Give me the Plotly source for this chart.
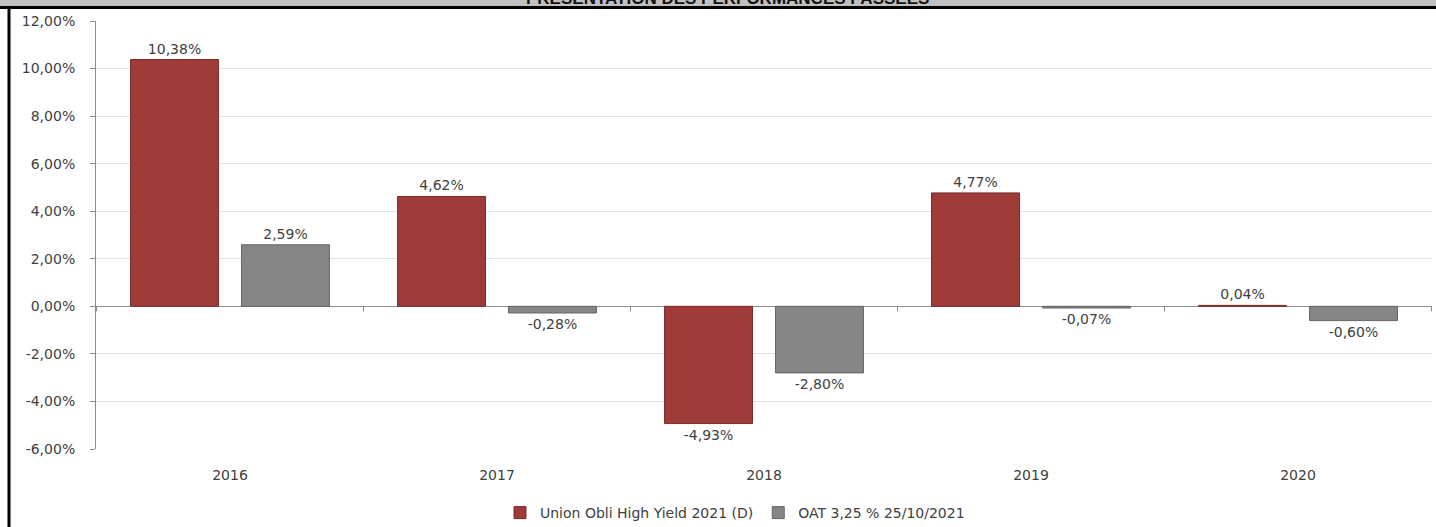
import plotly.graph_objects as go

years = ["2016", "2017", "2018", "2019", "2020"]
fund_name = "Union Obli High Yield 2021 (D)"
fund_perf = [10.38, 4.62, -4.93, 4.77, 0.04]
bench_name = "OAT 3,25 % 25/10/2021"
bench_perf = [2.59, -0.28, -2.80, -0.07, -0.60]
y_ticks = [-6, -4, -2, 0, 2, 4, 6, 8, 10, 12]
title_text = "PRESENTATION DES PERFORMANCES PASSEES"

W, H = 1436, 527
ML, MR, MT, MB = 96, 4, 21, 78
PW, PH = W - ML - MR, H - MT - MB

def px_x(p):
    return (p - ML) / PW

def px_y(p):
    return (H - MB - p) / PH

def pct(v):
    return ("%.2f%%" % v).replace(".", ",")

FONT = "DejaVu Sans"
FS = 14
TXT = "#404040"

fig = go.Figure()
fig.add_trace(go.Bar(
    x=years, y=fund_perf, name=fund_name,
    marker=dict(color="#9E3B39", line=dict(color="#7A2B29", width=1)),
    text=[pct(v) for v in fund_perf], texttemplate="%{text}", textposition="outside",
    textfont=dict(family=FONT, size=FS, color=TXT), cliponaxis=False,
))
fig.add_trace(go.Bar(
    x=years, y=bench_perf, name=bench_name,
    marker=dict(color="#868686", line=dict(color="#666666", width=1)),
    text=[pct(v) for v in bench_perf], texttemplate="%{text}", textposition="outside",
    textfont=dict(family=FONT, size=FS, color=TXT), cliponaxis=False,
))

shapes = []
for i in range(len(years) + 1):
    shapes.append(dict(type="line", xref="x", yref="y", x0=i - 0.5, x1=i - 0.5,
                       ysizemode="pixel", yanchor=0, y0=0, y1=-5,
                       line=dict(color="#8C8C8C", width=1), layer="below"))
shapes.append(dict(type="rect", xref="paper", yref="paper",
                   x0=px_x(0), x1=px_x(W), y0=px_y(6), y1=px_y(-2),
                   fillcolor="#C0C0C0", line=dict(width=0), layer="below"))
shapes.append(dict(type="line", xref="paper", yref="paper",
                   x0=px_x(0), x1=px_x(W), y0=px_y(7.5), y1=px_y(7.5),
                   line=dict(color="black", width=3)))
shapes.append(dict(type="line", xref="paper", yref="paper",
                   x0=px_x(9), x1=px_x(9), y0=px_y(6), y1=px_y(H + 2),
                   line=dict(color="black", width=3)))

fig.update_layout(
    width=W, height=H,
    margin=dict(l=ML, r=MR, t=MT, b=MB, autoexpand=False),
    paper_bgcolor="white", plot_bgcolor="white",
    barmode="group", bargap=0.169, bargroupgap=0.207,
    font=dict(family=FONT, size=FS, color=TXT),
    showlegend=True,
    legend=dict(orientation="h", xref="container", yref="container",
                x=735 / W, xanchor="center",
                y=(H - 513) / H, yanchor="middle",
                font=dict(family=FONT, size=FS, color=TXT),
                itemwidth=30, traceorder="normal"),
    shapes=shapes,
    annotations=[dict(text="<b>" + title_text + "</b>", xref="paper", yref="paper",
                      x=px_x(727), y=px_y(10), xanchor="center", yanchor="bottom",
                      showarrow=False,
                      font=dict(family="Liberation Sans", size=17, color="#111111"))],
)
fig.update_yaxes(range=[-6, 12], tickvals=y_ticks, ticktext=[pct(v) for v in y_ticks],
                 showgrid=True, gridcolor="#E3E3E3", gridwidth=1,
                 zeroline=True, zerolinecolor="#8C8C8C", zerolinewidth=1,
                 showline=True, linecolor="#8C8C8C", linewidth=1,
                 ticks="outside", ticklen=5, tickcolor="#8C8C8C",
                 ticklabelstandoff=12,
                 tickfont=dict(family=FONT, size=FS, color=TXT))
fig.update_xaxes(type="category", showline=False, ticks="", showgrid=False,
                 ticklabelstandoff=16,
                 tickfont=dict(family=FONT, size=FS, color=TXT))

fig.write_html("out.html", config={"displayModeBar": False},
               post_script="document.body.style.margin='0';")
